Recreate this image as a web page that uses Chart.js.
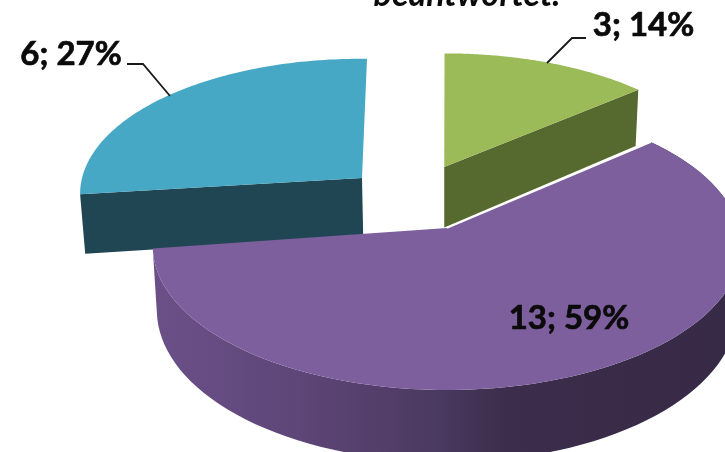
<!DOCTYPE html>
<html><head><meta charset="utf-8">
<style>html,body{margin:0;padding:0;background:#fff}canvas{display:block}</style>
<script src="https://cdn.jsdelivr.net/npm/chart.js@4"></script>
</head><body><canvas id="c" width="725" height="452"></canvas>
<script>
const categories = ['Gruppe 1', 'Gruppe 2', 'Gruppe 3'];
const values = [3, 13, 6];
const faceColors = ['#9bbb59', '#7d5f9e', '#47a8c5'];
const wallColors = ['#566a2f', '#4a3860', '#1f4652'];
const titleText = 'beantwortet.';

// style of the 3-D look
const view = {ox: 447, oy: 228, a: 292, b: 141.8, k: 0.1246, shrink: 0.986};
const depths = [64, 63, 61];
const explode = [[-0.01, -0.4546], [0, 0], [-0.3045, -0.369]];
const tweak = [[0, 0, 1], [0, 0, 1], [0.035, 0.0106, 1.03]];
const cutFaces = [[false, true], [false, false], [true, false]];
const rimWalls = [false, true, false];
const drawOrder = [2, 0, 1];
const labelAnchors = [[643.5, 36], [569, 329], [71, 65]];
const leaders = [
  [[547, 63], [572, 38], [586, 38]],
  null,
  [[170, 96], [143, 64], [127, 64]]
];

function project(theta, radial, idx, bottom) {
  const X = radial * Math.cos(theta), Z = radial * Math.sin(theta);
  const wx = X + explode[idx][0], wz = Z + explode[idx][1];
  const s = 1 / (1 - view.k * wz), s0 = 1 / (1 - view.k * explode[idx][1]);
  const ax = view.a * explode[idx][0] * s0, ay = view.b * explode[idx][1] * s0;
  let x = view.a * wx * s, y = view.b * wz * s;
  const [sk, tilt, ys] = tweak[idx];
  const dx = x - ax, dy = y - ay;
  x = ax + dx + sk * dy;
  y = ay + dy * ys + tilt * dx;
  if (bottom) { x *= view.shrink; y += depths[idx] * s; }
  return [view.ox + x, view.oy + y];
}
function rimPoints(arc, idx, bottom) {
  const pts = [], n = 90;
  for (let i = 0; i <= n; i++) {
    const t = arc.startAngle + (arc.endAngle - arc.startAngle) * i / n;
    pts.push(project(t, 1, idx, bottom));
  }
  return pts;
}
function fillPoly(ctx, pts, style) {
  ctx.beginPath();
  pts.forEach((p, i) => i ? ctx.lineTo(p[0], p[1]) : ctx.moveTo(p[0], p[1]));
  ctx.closePath();
  ctx.fillStyle = style;
  ctx.fill();
}
const pie3d = {
  id: 'pie3d',
  beforeDatasetsDraw(chart) {
    const ctx = chart.ctx, arcs = chart.getDatasetMeta(0).data;
    ctx.save();
    drawOrder.forEach(i => {
      const arc = arcs[i];
      const top = rimPoints(arc, i, false), bot = rimPoints(arc, i, true);
      const aTop = project(0, 0, i, false), aBot = project(0, 0, i, true);
      let wall = wallColors[i];
      if (i === 1) {
        wall = ctx.createLinearGradient(155, 0, 725, 0);
        wall.addColorStop(0, '#6b5088');
        wall.addColorStop(0.25, '#5e4678');
        wall.addColorStop(0.495, '#4b3960');
        wall.addColorStop(0.62, '#3b2d4b');
        wall.addColorStop(1, '#372a46');
      }
      if (cutFaces[i][0]) fillPoly(ctx, [aTop, top[0], bot[0], aBot], wall);
      if (cutFaces[i][1]) fillPoly(ctx, [aTop, top[top.length - 1], bot[bot.length - 1], aBot], wall);
      if (rimWalls[i]) fillPoly(ctx, top.concat(bot.slice().reverse()), wall);
      fillPoly(ctx, [aTop].concat(top), arc.options.backgroundColor);
      if (i === 1) {
        ctx.strokeStyle = '#ffffff';
        ctx.lineWidth = 1.4;
        ctx.beginPath();
        ctx.moveTo(aTop[0], aTop[1]);
        ctx.lineTo(top[0][0], top[0][1]);
        ctx.stroke();
      }
    });
    ctx.restore();
    return false;
  },
  afterDraw(chart) {
    const ctx = chart.ctx;
    const total = values.reduce((s, v) => s + v, 0);
    ctx.save();
    ctx.strokeStyle = '#1a1a1a';
    ctx.lineWidth = 1.8;
    leaders.forEach(l => {
      if (!l) return;
      ctx.beginPath();
      l.forEach((p, i) => i ? ctx.lineTo(p[0], p[1]) : ctx.moveTo(p[0], p[1]));
      ctx.stroke();
    });
    ctx.fillStyle = '#0b0b0b';
    ctx.strokeStyle = '#0b0b0b';
    ctx.lineWidth = 0.7;
    ctx.textAlign = 'center';
    ctx.textBaseline = 'alphabetic';
    ctx.font = 'bold 33px Lato';
    values.forEach((v, i) => {
      const txt = v + '; ' + Math.round(v / total * 100) + '%';
      ctx.fillText(txt, labelAnchors[i][0], labelAnchors[i][1]);
      ctx.strokeText(txt, labelAnchors[i][0], labelAnchors[i][1]);
    });
    ctx.font = 'italic bold 34px Lato';
    ctx.fillText(titleText, 467, 6);
    ctx.restore();
  }
};
new Chart(document.getElementById('c'), {
  type: 'pie',
  data: {labels: categories, datasets: [{data: values, backgroundColor: faceColors, borderWidth: 0}]},
  options: {
    responsive: false,
    animation: false,
    plugins: {legend: {display: false}, tooltip: {enabled: false}}
  },
  plugins: [pie3d]
});
</script></body></html>
